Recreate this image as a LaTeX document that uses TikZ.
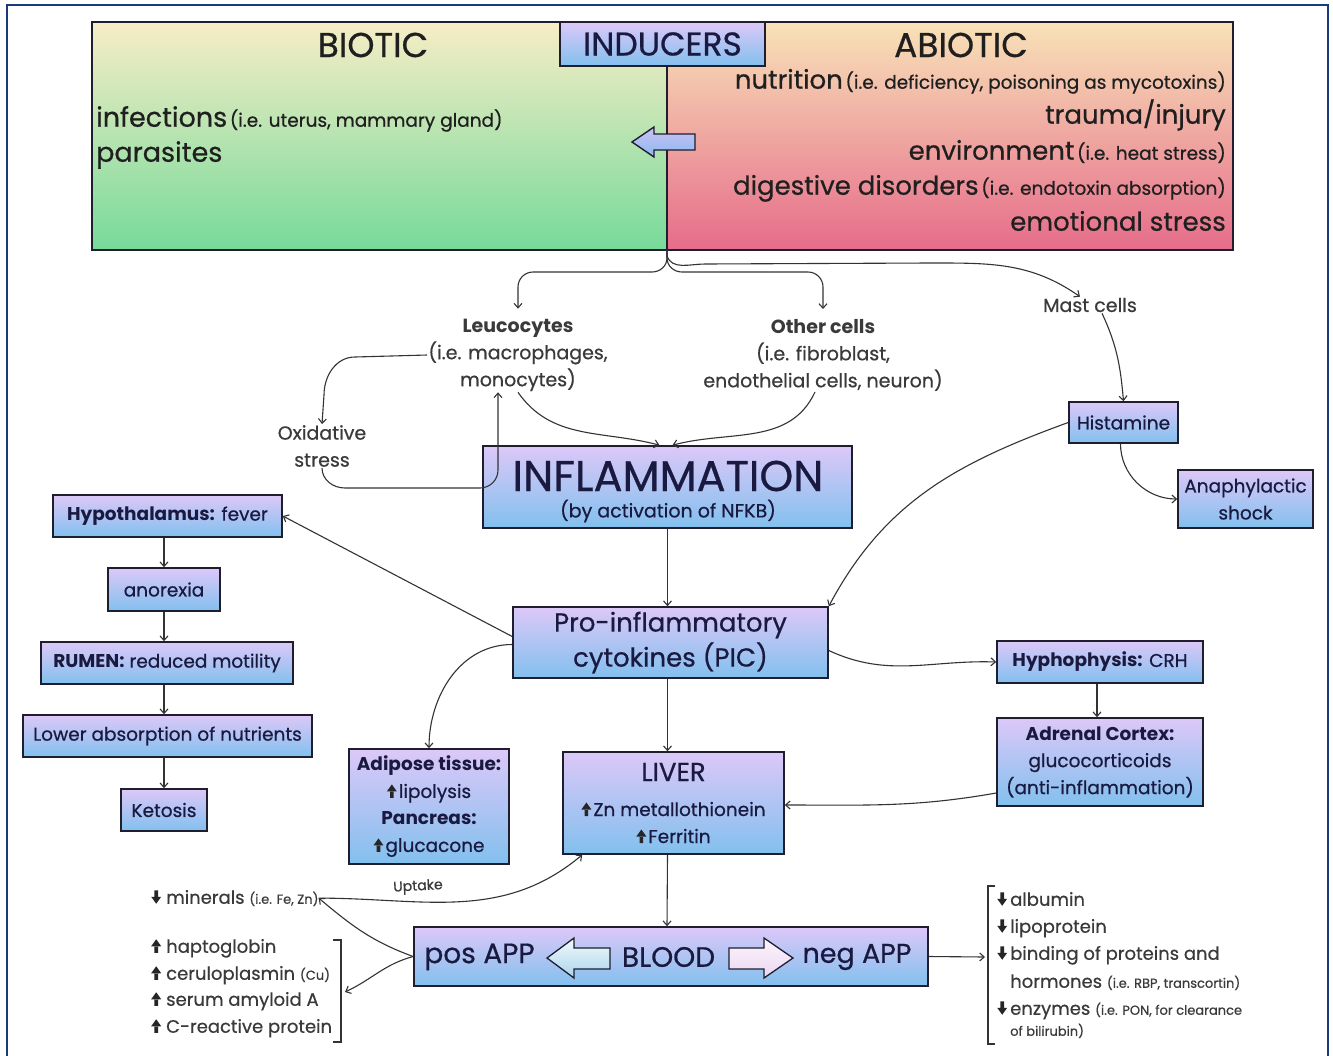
\documentclass[tikz,border=0pt]{standalone}
\usepackage{fontspec}
\setmainfont{Poppins}[UprightFeatures={FakeBold=0.6}]
\usetikzlibrary{arrows.meta,calc}
\newcommand\fs[2]{\fontsize{#1}{#2}\selectfont}
\newcommand\upa{\tikz[x=1pt,y=1pt,baseline=0pt]{\fill[black!85] (-1.8,0) rectangle (1.8,7) (-5,6.5) -- (5,6.5) -- (0,13.5) -- cycle;}}
\newcommand\dna{\tikz[x=1pt,y=1pt,baseline=0pt]{\fill[black!85] (-1.8,6.5) rectangle (1.8,13.5) (-5,7) -- (5,7) -- (0,0) -- cycle;}}
\definecolor{bline}{HTML}{1E1E2E}
\definecolor{btop}{HTML}{DCC8F8}
\definecolor{bbot}{HTML}{82C0EE}
\definecolor{tcol}{HTML}{1A1A40}
\definecolor{gtxt}{HTML}{3A3A3A}
\definecolor{acol}{HTML}{333333}
\definecolor{gtop}{HTML}{F7EDC6}
\definecolor{gbot}{HTML}{76DA9A}
\definecolor{ptop}{HTML}{F8E2B8}
\definecolor{pbot}{HTML}{E66C8A}
\definecolor{framec}{HTML}{1B3A78}
\definecolor{atop}{HTML}{C9C2F5}
\definecolor{abot}{HTML}{8CB9EE}
\definecolor{latop}{HTML}{F4FAFC}
\definecolor{labot}{HTML}{A8D4EC}
\definecolor{ratop}{HTML}{FDF5FC}
\definecolor{rabot}{HTML}{EBD6F2}
\begin{document}
\begin{tikzpicture}[x=1pt,y=-1pt,
  pbox/.style={draw=bline, line width=1.6pt, top color=btop, bottom color=bbot, text=tcol, align=center, inner sep=0pt, font=\fs{18.5}{27}},
  ftxt/.style={text=gtxt, align=center, inner sep=1pt, font=\fs{19}{27}},
  ttxt/.style={text=black!88, inner sep=0pt},
  btxt/.style={text=tcol, inner sep=0pt},
  ltxt/.style={text=gtxt, inner sep=0pt, anchor=mid west, font=\fs{18}{22}},
  arr/.style={draw=acol, line width=1.1pt, -{Straight Barb[length=4.5pt,width=8pt]}}]
\useasboundingbox (0,0) rectangle (1333,1055);
\fill[white] (0,0) rectangle (1333,1055);
\draw[framec, line width=2.2pt] (7,5) rectangle (1328,1065);
% top panel
\shade[top color=gtop, bottom color=gbot] (92,22) rectangle (667,250);
\shade[top color=ptop, bottom color=pbot] (667,22) rectangle (1233,250);
\draw[bline, line width=1.6pt] (92,22) rectangle (1233,250);
\draw[bline, line width=1.6pt] (667,60) -- (667,250);
\coordinate (panelb) at (667,250);
\node[pbox, minimum width=205, minimum height=44, font=\fs{33}{33}] (ind) at (662.5,44) {INDUCERS};
\node[ttxt, font=\fs{34.5}{34.5}] (bio) at (373,45) {BIOTIC};
\node[ttxt, font=\fs{34.5}{34.5}] (abio) at (961,45) {ABIOTIC};
\node[ttxt, anchor=mid west] (infec) at (96,124) {{\fs{27}{27}infections} {\fs{18.5}{18.5}(i.e. uterus, mammary gland)}};
\node[ttxt, anchor=mid west] (paras) at (96,159) {\fs{27}{27}parasites};
\node[ttxt, anchor=mid east] (nutr) at (1226,86) {{\fs{26}{26}nutrition} {\fs{18.5}{18.5}(i.e. deficiency, poisoning as mycotoxins)}};
\node[ttxt, anchor=mid east] (traum) at (1226,121) {\fs{26}{26}trauma/injury};
\node[ttxt, anchor=mid east] (envi) at (1226,157) {{\fs{26}{26}environment} {\fs{18.5}{18.5}(i.e. heat stress)}};
\node[ttxt, anchor=mid east] (dige) at (1226,192) {{\fs{26}{26}digestive disorders} {\fs{18.5}{18.5}(i.e. endotoxin absorption)}};
\node[ttxt, anchor=mid east] (emot) at (1226,228) {\fs{26}{26}emotional stress};
\draw[bline, line width=1.4pt, top color=atop, bottom color=abot] (632,142) -- (654,127) -- (654,134) -- (695,134) -- (695,150) -- (654,150) -- (654,157) -- cycle;
% free text
\node[ftxt] (leuco) at (518,355) {\textbf{Leucocytes}\\(i.e. macrophages,\\monocytes)};
\node[ftxt] (oth) at (823,355) {\textbf{Other cells}\\(i.e. fibroblast,\\endothelial cells, neuron)};
\node[ftxt] (mast) at (1090,305) {Mast cells};
\node[ftxt] (oxid) at (322,446) {Oxidative\\stress};
% boxes
\node[pbox, minimum width=369, minimum height=82] (infl) at (667.5,487) {};
\node[btxt, font=\fs{43}{43}] (inflt) at (668,476) {INFLAMMATION};
\node[btxt, font=\fs{19}{19}] (infls) at (668,511) {(by activation of NFKB)};
\node[pbox, minimum width=229, minimum height=42] (hypo) at (167.5,516) {\textbf{Hypothalamus:} fever};
\node[pbox, minimum width=112, minimum height=43] (anor) at (164,589.5) {anorexia};
\node[pbox, minimum width=252, minimum height=42] (rumen) at (167,663) {\textbf{RUMEN:} reduced motility};
\node[pbox, minimum width=289, minimum height=42] (lower) at (167.5,736) {Lower absorption of nutrients};
\node[pbox, minimum width=86, minimum height=42] (keto) at (164,810) {Ketosis};
\node[pbox, minimum width=315, minimum height=71, font=\fs{26}{35}] (pic) at (670.5,642.5) {Pro-inflammatory\\cytokines (PIC)};
\node[pbox, minimum width=160, minimum height=115] (adip) at (429,806.5) {\textbf{Adipose tissue:}\\\upa\hspace{2pt}lipolysis\\\textbf{Pancreas:}\\\upa\hspace{2pt}glucacone};
\node[pbox, minimum width=221, minimum height=102] (liver) at (673.5,803) {{\fs{26}{26}LIVER}\\[8pt]\upa\hspace{2pt}Zn metallothionein\\\upa\hspace{2pt}Ferritin};
\node[pbox, minimum width=109, minimum height=41] (hist) at (1123.5,422.5) {Histamine};
\node[pbox, minimum width=135, minimum height=58] (ana) at (1245.5,499) {Anaphylactic\\shock};
\node[pbox, minimum width=206, minimum height=42] (hyph) at (1100,662) {\textbf{Hyphophysis:} CRH};
\node[pbox, minimum width=206, minimum height=88] (adr) at (1100,762) {\textbf{Adrenal Cortex:}\\glucocorticoids\\(anti-inflammation)};
\node[pbox, minimum width=514, minimum height=59] (blood) at (671,956.5) {};
\node[btxt, font=\fs{28}{28}] (posapp) at (479.5,957) {pos APP};
\node[btxt, font=\fs{28}{28}] (bloodt) at (668.5,957) {BLOOD};
\node[btxt, font=\fs{27}{27}] (negapp) at (857,957) {neg APP};
\draw[bline, line width=1.3pt, top color=latop, bottom color=labot] (547,958) -- (574,938) -- (574,948) -- (610,948) -- (610,969) -- (574,969) -- (574,978) -- cycle;
\draw[bline, line width=1.3pt, top color=ratop, bottom color=rabot] (729,948) -- (764,948) -- (764,938) -- (793,958) -- (764,978) -- (764,969) -- (729,969) -- cycle;
% lists
\node[ltxt] (min) at (151,901) {\dna\hspace{5pt}minerals {\fs{13}{13}(i.e. Fe, Zn)}};
\node[ltxt] (hap) at (151,950) {\upa\hspace{5pt}haptoglobin};
\node[ltxt] (cer) at (151,977) {\upa\hspace{5pt}ceruloplasmin {\fs{13}{13}(Cu)}};
\node[ltxt] (saa) at (151,1003) {\upa\hspace{5pt}serum amyloid A};
\node[ltxt] (crp) at (151,1030) {\upa\hspace{5pt}C-reactive protein};
\draw[acol, line width=1.3pt] (333,940) -- (341,940) -- (341,1042) -- (333,1042);
\node[ltxt] (alb) at (997,903) {\dna\hspace{3pt}albumin};
\node[ltxt] (lip) at (997,930) {\dna\hspace{3pt}lipoprotein};
\node[ltxt] (bind) at (997,957) {\dna\hspace{3pt}binding of proteins and};
\node[ltxt] (horm) at (1010,985) {hormones {\fs{13}{13}(i.e. RBP, transcortin)}};
\node[ltxt] (enz) at (997,1012) {\dna\hspace{3pt}enzymes {\fs{13}{13}(i.e. PON, for clearance}};
\node[ltxt, font=\fs{13}{13}] (bil) at (1010,1033) {of bilirubin)};
\draw[acol, line width=1.3pt] (995,886) -- (988,886) -- (988,1044) -- (995,1044);
\coordinate (rbr) at (985,957);
\coordinate (lbr) at (345,992);
\node[text=gtxt, font=\fs{14}{14}, inner sep=0pt, rotate=3] (upt) at (418,887) {Uptake};
% connectors
\draw[arr] (panelb) -- (667,258) to[out=-90,in=0] (652,272) -- (533,272) to[out=180,in=90] (518,287) -- ([yshift=9pt]leuco.north);
\draw[arr] (panelb) -- (667,258) to[out=-90,in=180] (682,272) -- (808,272) to[out=0,in=90] (823,287) -- ([yshift=9pt]oth.north);
\draw[arr] (panelb) -- (667,256) to[out=-70,in=180] (705,264) -- (930,263) to[out=0,in=145] ([xshift=-10pt]mast.north);
\draw[arr] (leuco.west) -- (355,357) to[out=180,in=90] (324,395) -- (oxid.north);
\draw[arr] (oxid.south) to[out=-90,in=180] (345,488) -- (480,488) to[out=0,in=-90] (498,470) -- ([xshift=-20pt]leuco.south);
\draw[arr] (leuco.south) to[out=-55,in=165] ([xshift=-8pt]infl.north);
\draw[arr] ([xshift=-8pt]oth.south) to[out=-115,in=15] ([xshift=5pt]infl.north);
\draw[arr] (infl.south) -- (infl.south |- pic.north);
\draw[arr] (hist.west) to[out=200,in=62] (pic.north east);
\draw[arr] ([xshift=12pt]mast.south) to[out=-65,in=95] (hist.north);
\draw[arr] ([xshift=-3pt]hist.south) to[out=-90,in=180] (ana.west);
\draw[arr] ([yshift=6pt]pic.west) -- (hypo.east);
\draw[arr] ([yshift=-2pt]pic.west) to[out=180,in=90] (adip.north);
\draw[arr] ([xshift=-3pt]pic.south) -- ([xshift=-6pt]liver.north);
\draw[arr] ([yshift=-8pt]pic.east) to[out=-25,in=178] (hyph.west);
\draw[arr] ([xshift=-3pt]hyph.south) -- ([xshift=-3pt]adr.north);
\draw[arr] ([yshift=-31pt]adr.west) to[out=190,in=0] ([yshift=-2pt]liver.east);
\draw[arr] ([xshift=-6pt]liver.south) -- ([xshift=-4pt]blood.north);
\draw[arr] (hypo.south -| anor.north) -- (anor.north);
\draw[arr] (anor.south) -- (anor.south |- rumen.north);
\draw[arr] (anor.south |- rumen.south) -- (anor.south |- lower.north);
\draw[arr] (anor.south |- lower.south) -- (keto.north);
\draw[arr] (blood.east) -- (rbr);
\draw[arr] (blood.west) to[out=160,in=-40] (min.east);
\draw[arr] (blood.west) to[out=195,in=25] (lbr);
\draw[arr] (min.east) to[out=0,in=-140] ([xshift=20pt]liver.south west);
\end{tikzpicture}
\end{document}
